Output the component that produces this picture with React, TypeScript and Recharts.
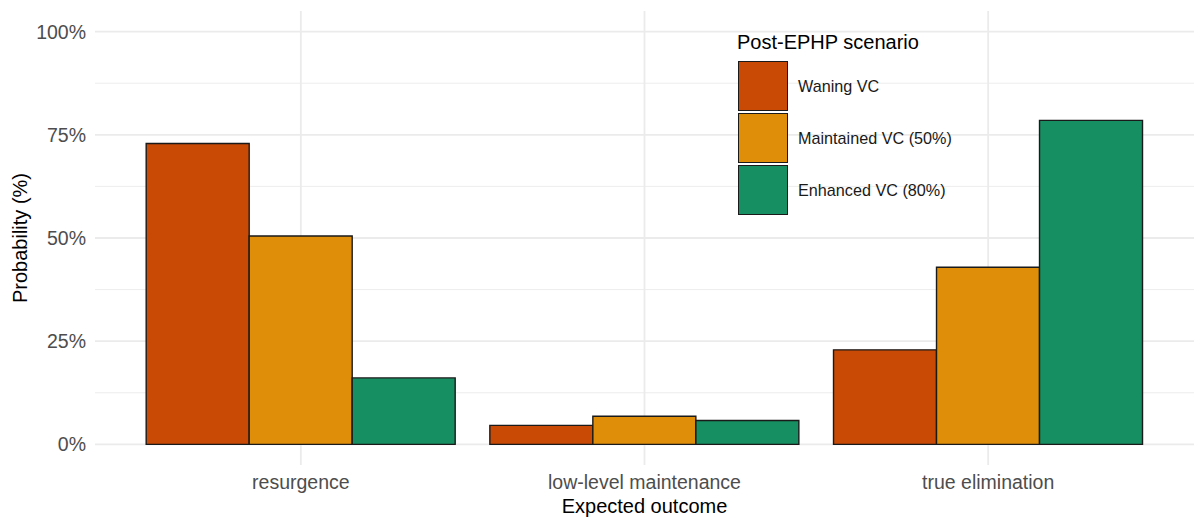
import { Bar, BarChart, CartesianGrid, XAxis, YAxis } from 'recharts';

const outcomes = ['resurgence', 'low-level maintenance', 'true elimination'];
const waningVC = [0.729, 0.046, 0.229];
const maintainedVC = [0.505, 0.068, 0.429];
const enhancedVC = [0.161, 0.058, 0.785];

const scenarios = ['Waning VC', 'Maintained VC (50%)', 'Enhanced VC (80%)'];
const colors = ['#C94A04', '#DF8E0A', '#168F62'];

const majorTicks = [0, 0.25, 0.5, 0.75, 1];
const minorTicks = [0.125, 0.375, 0.625, 0.875];
const yDomain = [-0.05, 1.05];

const rows = outcomes.map((outcome, i) => ({
  outcome,
  waning: waningVC[i],
  maintained: maintainedVC[i],
  enhanced: enhancedVC[i],
}));

const font = '"Liberation Sans", Arial, Helvetica, sans-serif';

function App() {
  return (
    <div style={{ position: 'relative', width: 1194, height: 523, fontFamily: font }}>
      <style>{'body{margin:0;background:#fff}'}</style>
      <BarChart
        width={1194}
        height={523}
        data={rows}
        margin={{ top: 11, right: 0, bottom: 0, left: 0 }}
        barCategoryGap="5%"
        barGap={0}
        style={{ fontFamily: font }}
      >
        {/* minor grid first, then the major one on top */}
        <CartesianGrid yAxisId="minor" vertical={false} syncWithTicks stroke="#ebebeb" strokeWidth={0.9} />
        <CartesianGrid syncWithTicks stroke="#ebebeb" strokeWidth={1.8} />
        <XAxis
          dataKey="outcome"
          axisLine={false}
          tickLine={false}
          padding={{ left: 34, right: 34 }}
          height={58}
          tickMargin={4}
          tick={{ fill: '#4d4d4d', fontSize: 19.5 }}
          label={{ value: 'Expected outcome', position: 'insideBottom', offset: 10, fill: '#000', fontSize: 20 }}
        />
        <YAxis yAxisId="minor" hide type="number" domain={yDomain} ticks={minorTicks} allowDataOverflow />
        <YAxis
          type="number"
          domain={yDomain}
          ticks={majorTicks}
          allowDataOverflow
          axisLine={false}
          tickLine={false}
          width={95}
          tickMargin={3}
          tick={{ fill: '#4d4d4d', fontSize: 19.5 }}
          tickFormatter={(v: number) => `${Math.round(v * 100)}%`}
          label={{
            value: 'Probability (%)',
            angle: -90,
            position: 'insideLeft',
            offset: 20,
            fill: '#000',
            fontSize: 20,
            style: { textAnchor: 'middle' },
          }}
        />
        <Bar dataKey="waning" name={scenarios[0]} fill={colors[0]} stroke="#1a1a1a" strokeWidth={1.4} isAnimationActive={false} />
        <Bar dataKey="maintained" name={scenarios[1]} fill={colors[1]} stroke="#1a1a1a" strokeWidth={1.4} isAnimationActive={false} />
        <Bar dataKey="enhanced" name={scenarios[2]} fill={colors[2]} stroke="#1a1a1a" strokeWidth={1.4} isAnimationActive={false} />
      </BarChart>

      <div style={{ position: 'absolute', left: 738, top: 30, color: '#000' }}>
        <div style={{ fontSize: 20, lineHeight: '24px', marginBottom: 6, marginLeft: -1 }}>Post-EPHP scenario</div>
        {scenarios.map((name, i) => (
          <div key={name} style={{ display: 'flex', alignItems: 'center', height: 52 }}>
            <div
              style={{
                width: 50,
                height: 50,
                background: colors[i],
                border: '1.4px solid #1a1a1a',
                boxSizing: 'border-box',
              }}
            />
            <span style={{ marginLeft: 10, fontSize: 16.2, color: '#1a1a1a' }}>{name}</span>
          </div>
        ))}
      </div>
    </div>
  );
}

export default App;
